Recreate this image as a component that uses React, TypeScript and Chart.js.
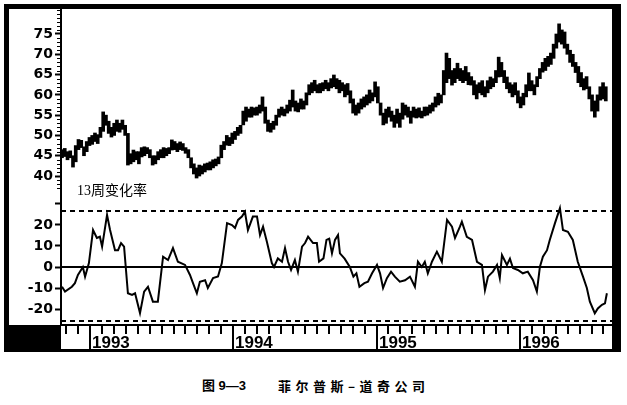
import React, { useEffect, useRef } from 'react';
import { Chart, registerables } from 'chart.js';

Chart.register(...registerables);

// ---- data ----
const START_YEAR = 1992.805; // first weekly bar (mid-October 1992)
const X_MIN = 1992.798;
const X_MAX = 1996.643;

const priceLow = [
  44.5, 44.8, 44.0, 44.5, 42.2, 43.5, 46.5, 47.0, 45.0, 46.0,
  47.5, 47.8, 48.5, 48.0, 49.5, 51.0, 52.5, 50.5, 49.6, 50.0,
  51.0, 50.8, 51.5, 50.0, 42.7, 43.0, 43.5, 44.0, 43.0, 44.7,
  45.0, 45.5, 44.5, 42.7, 43.0, 44.0, 44.5, 44.5, 45.0, 45.5,
  46.4, 46.5, 46.0, 46.5, 46.3, 45.6, 44.5, 42.0, 40.5, 39.5,
  40.0, 40.5, 41.0, 41.5, 41.5, 42.0, 42.5, 43.0, 44.5, 46.5,
  47.6, 47.5, 48.0, 49.0, 50.0, 50.5, 52.6, 53.5, 54.5, 54.5,
  55.0, 55.0, 55.5, 56.0, 53.0, 51.0, 50.8, 51.5, 52.5, 54.5,
  55.0, 54.8, 55.5, 56.0, 57.0, 56.0, 55.8, 56.5, 56.5, 57.5,
  60.0, 60.5, 61.0, 60.5, 60.5, 61.0, 61.5, 61.0, 61.7, 62.0,
  61.5, 60.5, 61.0, 59.5, 60.0, 58.0, 55.5, 55.0, 55.5, 56.5,
  57.0, 57.5, 58.0, 58.5, 59.5, 58.0, 55.0, 52.6, 53.0, 54.5,
  53.5, 52.0, 53.0, 52.0, 54.0, 55.0, 54.5, 53.0, 54.5, 54.3,
  54.5, 54.3, 54.8, 55.0, 55.5, 56.0, 57.0, 57.5, 58.0, 60.0,
  63.0, 64.0, 62.4, 63.0, 64.0, 63.5, 63.0, 63.5, 62.5, 62.4,
  60.0, 59.0, 60.5, 60.0, 59.5, 60.5, 61.5, 62.0, 63.0, 64.4,
  64.5, 63.0, 61.5, 60.5, 59.5, 60.0, 58.0, 56.8, 57.5, 59.5,
  61.0, 61.0, 60.0, 62.0, 64.0, 65.6, 66.0, 67.0, 67.5, 69.0,
  71.5, 73.0, 72.5, 71.5, 70.0, 68.0, 67.0, 65.5, 63.0, 62.0,
  61.2, 61.5, 59.0, 56.0, 54.5, 56.0, 58.7, 59.0, 58.5,
];

const priceHigh = [
  46.5, 46.8, 46.0, 46.2, 45.0, 47.5, 49.0, 48.8, 47.2, 48.5,
  49.5, 50.0, 50.6, 50.2, 52.0, 55.8, 55.0, 53.5, 52.0, 53.0,
  53.8, 53.0, 53.8, 52.5, 50.5, 45.5, 46.4, 46.0, 46.0, 47.0,
  47.2, 47.0, 46.5, 45.0, 45.0, 46.0, 46.5, 47.0, 46.8, 47.0,
  48.9, 48.5, 48.0, 48.4, 48.0, 47.0, 46.5, 44.5, 43.0, 42.0,
  42.7, 42.5, 43.0, 43.2, 43.5, 44.0, 44.2, 44.7, 47.6, 48.5,
  50.0, 49.5, 50.6, 51.0, 52.0, 52.5, 56.0, 57.0, 56.5, 57.0,
  56.8, 57.0, 57.5, 59.5, 57.0, 53.8, 53.0, 53.5, 55.0, 56.5,
  57.0, 56.5, 57.5, 58.7, 61.2, 58.5, 58.0, 59.0, 58.5, 60.5,
  62.5, 63.0, 63.6, 62.5, 62.8, 63.0, 63.6, 63.0, 64.0, 64.9,
  64.0, 63.6, 63.0, 62.5, 62.8, 61.0, 59.0, 57.5, 58.0, 59.0,
  59.5, 60.0, 61.2, 60.5, 63.2, 62.0, 58.0, 55.5, 56.5, 57.0,
  56.0, 55.0, 56.5, 55.5, 58.0, 57.5, 57.0, 56.0, 57.0, 56.5,
  56.8, 56.0, 57.0, 57.0, 57.5, 58.0, 59.5, 60.4, 60.0, 66.0,
  70.3, 69.0, 66.0, 66.5, 67.8, 66.5, 66.0, 67.0, 65.5, 64.5,
  63.5, 62.5, 63.0, 63.5, 62.0, 63.5, 64.4, 64.0, 66.0, 69.3,
  68.0, 66.0, 64.4, 63.0, 62.5, 63.0, 61.0, 59.5, 60.4, 62.5,
  65.4, 63.5, 62.5, 64.5, 66.5, 68.0, 69.0, 69.5, 70.3, 72.5,
  75.0, 77.5, 76.0, 75.5, 72.5, 71.0, 70.0, 68.0, 67.0, 65.5,
  64.0, 64.5, 62.0, 60.0, 58.5, 60.0, 62.0, 63.0, 62.0,
];

// 13-week rate of change, read at these (fractional) week positions
const rocWeek = [
  0, 1.1, 3.6, 4.7, 5.8, 7.6, 8.4, 9.8, 11.3, 12.7,
  13.8, 14.6, 16.4, 17.5, 19.3, 20.4, 21.5, 22.6, 24, 25.5,
  26.6, 28.4, 29.9, 31.3, 33.1, 34.9, 36.8, 38.6, 40.4, 42.2,
  44.8, 46.6, 47.7, 49.1, 50.2, 52.1, 53.1, 55, 56.8, 58.2,
  60.1, 61.9, 63, 64.1, 65.5, 66.6, 67.7, 69.5, 71, 72.1,
  73.2, 74.6, 76.4, 77.2, 78.6, 80.1, 81.2, 82.3, 83.4, 84.8,
  85.9, 87.4, 88.5, 89.6, 91.4, 92.8, 93.6, 95.2, 96.3, 97.3,
  98.3, 99.4, 100.5, 101.2, 102.9, 104.8, 106.1, 107.2, 108.3, 110.1,
  111.4, 112.9, 114.7, 115.8, 116.9, 118.3, 119.8, 121.2, 123, 124.9,
  126.7, 128.5, 129.6, 131, 132.1, 133.2, 134.7, 136.5, 138.3, 140.2,
  142, 143.1, 144.9, 145.6, 147.4, 149.3, 151.1, 152.9, 154, 155.1,
  156.9, 158.4, 159.4, 160.2, 162, 163.1, 164.2, 166, 167.8, 169.6,
  171.5, 172.9, 174, 175.1, 176.6, 177.6, 179.5, 181.3, 182.4, 184.2,
  186, 187.8, 189.7, 191.1, 192.2, 194, 195.1, 196.6, 197.7, 198.4,
];
const rocValue = [
  -9.4, -11.7, -9.4, -7.7, -3.8, 0, -4.6, 1.9, 17.6, 13.8,
  14.4, 9.7, 24.8, 17.6, 8, 8, 11.4, 9.7, -12.5, -13.3,
  -12.5, -21.9, -11.7, -9.4, -16.5, -16.5, 4.9, 3.3, 9, 2.5,
  1, -3.8, -7.7, -12.5, -7, -6.3, -10, -5.3, -4.5, 1.9,
  20.9, 20, 18.6, 22.4, 24, 26.3, 17.6, 24, 24, 15.2,
  19.2, 12, 1.9, 0, 4.1, 2.5, 9, 2.5, -1.4, 3.3,
  -2.2, 9.7, 11.4, 14.4, 11.4, 11.4, 2.5, 4.1, 12.9, 13.5,
  6.5, 12.9, 15.2, 6.5, 4, 0, -4.6, -3, -9.4, -7.7,
  -7, -3, 1, -3, -10, -5.3, -2.2, -4.6, -7, -6.3,
  -4.6, -9.4, 2.5, 0, 2.5, -3, 2.5, 7.3, 2.5, 22.4,
  19.2, 13.8, 19.2, 21.6, 14.4, 12.9, 2.5, 1, -11, -4.6,
  -2.2, 1, -5.3, 5.7, 1, 4, -0.5, -1.4, -3, -2.2,
  -6.3, -11.7, 0, 4.9, 8, 12.9, 20.9, 28, 17.6, 16.8,
  12.9, 2.5, -4.6, -10, -16.5, -22, -19.7, -18, -17.3, -12.5,
];

const priceTicks = [40, 45, 50, 55, 60, 65, 70, 75];
const priceRange = [36.06, 81.16];
const rocTicks = [30, 20, 10, 0, -10, -20];
const rocLabeled = [20, 10, 0, -10, -20];
const rocRange = [-27.6, 35.7];
const upperBand = 26.7;
const lowerBand = -25.7;
const yearLabels = [1993, 1994, 1995, 1996];

const weekToYear = (w: number) => START_YEAR + (w * 7) / 365.25;

const tickFont = { family: '"DejaVu Sans", sans-serif', weight: 'bold' as const, size: 14 };

const fixAxis = (s: any) => {
  s.width = 51;
  s.paddingTop = 0;
  s.paddingBottom = 0;
};

const minorTicksPlugin = {
  id: 'minorTicks',
  afterDraw(chart: any) {
    const { ctx, chartArea, scales } = chart;
    const y = scales.y;
    ctx.save();
    ctx.fillStyle = '#000';
    for (let v = Math.ceil(priceRange[0]); v <= Math.floor(priceRange[1]); v++) {
      if (priceTicks.includes(v)) continue;
      const py = Math.round(y.getPixelForValue(v));
      ctx.fillRect(chartArea.left - 4, py, 4, 1);
    }
    ctx.restore();
  },
};

const timeAxisPlugin = {
  id: 'timeAxis',
  afterDraw(chart: any) {
    const { ctx, chartArea, scales } = chart;
    const x = scales.x;
    const { left, right, bottom } = chartArea;
    ctx.save();
    ctx.fillStyle = '#000';
    ctx.fillRect(left - 1, bottom - 1, right - left + 1, 2);
    const firstYear = yearLabels[0] - 1;
    const lastYear = yearLabels[yearLabels.length - 1];
    for (let yr = firstYear; yr <= lastYear; yr++) {
      for (let m = 0; m < 12; m++) {
        const v = yr + m / 12;
        if (v < X_MIN || v > X_MAX) continue;
        const px = Math.round(x.getPixelForValue(v));
        if (m === 0 && yearLabels.includes(yr)) {
          ctx.fillRect(px - 1, bottom, 2, 27);
          ctx.font = 'bold 17px "Liberation Sans", Arial, sans-serif';
          ctx.textAlign = 'left';
          ctx.textBaseline = 'alphabetic';
          ctx.fillText(String(yr), px + 2, bottom + 23);
        } else {
          ctx.fillRect(px - 1, bottom, 2, 9);
        }
      }
    }
    ctx.restore();
  },
};

function PriceChart() {
  const ref = useRef<HTMLCanvasElement>(null);
  useEffect(() => {
    if (!ref.current) return;
    const n = Math.min(priceLow.length, priceHigh.length);
    const bars = [];
    for (let i = 0; i < n; i++) bars.push({ x: weekToYear(i), y: [priceLow[i], priceHigh[i]] });
    const chart = new Chart(ref.current, {
      type: 'bar',
      data: {
        datasets: [
          {
            data: bars as any,
            backgroundColor: '#000',
            borderWidth: 0,
            barThickness: 3,
            grouped: false,
          } as any,
        ],
      },
      options: {
        animation: false,
        responsive: true,
        maintainAspectRatio: false,
        layout: { padding: 0, autoPadding: false },
        plugins: { legend: { display: false }, tooltip: { enabled: false } },
        scales: {
          x: { type: 'linear', min: X_MIN, max: X_MAX, offset: false, display: false },
          y: {
            min: priceRange[0],
            max: priceRange[1],
            afterFit: fixAxis,
            afterBuildTicks: (s: any) => {
              s.ticks = priceTicks.map((v) => ({ value: v }));
            },
            ticks: { font: tickFont, color: '#000', padding: 2, callback: (v: any) => String(v) },
            grid: { drawOnChartArea: false, tickLength: 6, tickWidth: 2, color: '#000' },
            border: { color: '#000', width: 2 },
          },
        },
      } as any,
      plugins: [minorTicksPlugin],
    });
    return () => chart.destroy();
  }, []);
  return <canvas ref={ref} />;
}

function RocChart() {
  const ref = useRef<HTMLCanvasElement>(null);
  useEffect(() => {
    if (!ref.current) return;
    const n = Math.min(rocWeek.length, rocValue.length);
    const pts = [];
    for (let i = 0; i < n; i++) pts.push({ x: weekToYear(rocWeek[i]), y: rocValue[i] });
    const hline = (v: number) => [
      { x: X_MIN, y: v },
      { x: X_MAX, y: v },
    ];
    const chart = new Chart(ref.current, {
      type: 'line',
      data: {
        datasets: [
          { data: hline(upperBand), borderColor: '#000', borderWidth: 2, borderDash: [5, 4], pointRadius: 0 },
          { data: hline(lowerBand), borderColor: '#000', borderWidth: 2, borderDash: [5, 4], pointRadius: 0 },
          { data: hline(0), borderColor: '#000', borderWidth: 2, pointRadius: 0 },
          { data: pts, borderColor: '#000', borderWidth: 2, pointRadius: 0, tension: 0 },
        ] as any,
      },
      options: {
        animation: false,
        responsive: true,
        maintainAspectRatio: false,
        layout: { padding: { bottom: 27, top: 0, left: 0, right: 0 }, autoPadding: false },
        plugins: { legend: { display: false }, tooltip: { enabled: false } },
        scales: {
          x: { type: 'linear', min: X_MIN, max: X_MAX, offset: false, display: false },
          y: {
            min: rocRange[0],
            max: rocRange[1],
            afterFit: fixAxis,
            afterBuildTicks: (s: any) => {
              s.ticks = rocTicks.map((v) => ({ value: v }));
            },
            ticks: {
              font: tickFont,
              color: '#000',
              padding: 2,
              callback: (v: any) => (rocLabeled.includes(v) ? String(v) : ''),
            },
            grid: { drawOnChartArea: false, tickLength: 6, tickWidth: 2, color: '#000' },
            border: { color: '#000', width: 2 },
          },
        },
      } as any,
      plugins: [timeAxisPlugin],
    });
    return () => chart.destroy();
  }, []);
  return <canvas ref={ref} />;
}

const box = (left: number, top: number, width: number, height: number): React.CSSProperties => ({
  position: 'absolute',
  left,
  top,
  width,
  height,
  background: '#000',
});

export default function App() {
  return (
    <div
      style={{
        position: 'fixed',
        left: 0,
        top: 0,
        width: 627,
        height: 405,
        background: '#fff',
        overflow: 'hidden',
      }}
    >
      <div style={{ position: 'absolute', left: 10, top: 9, width: 602, height: 183 }}>
        <PriceChart />
      </div>
      <div style={{ position: 'absolute', left: 10, top: 192, width: 602, height: 160 }}>
        <RocChart />
      </div>
      {/* frame */}
      <div style={box(4, 4, 617, 5)} />
      <div style={box(4, 4, 5, 348)} />
      <div style={box(612, 4, 9, 348)} />
      <div style={box(4, 349, 617, 3)} />
      <div style={box(4, 325, 57, 27)} />
      <div
        style={{
          position: 'absolute',
          left: 77,
          top: 182,
          fontFamily: '"Liberation Serif", "Noto Sans CJK SC", serif',
          fontSize: 14,
          lineHeight: '18px',
          color: '#000',
          whiteSpace: 'nowrap',
        }}
      >
        13周变化率
      </div>
      <div
        style={{
          position: 'absolute',
          left: 202,
          top: 377,
          fontFamily: '"Liberation Sans", "Noto Sans CJK SC", sans-serif',
          fontWeight: 'bold',
          fontSize: 13,
          lineHeight: '18px',
          color: '#000',
          whiteSpace: 'nowrap',
        }}
      >
        图 9—3
      </div>
      <div
        style={{
          position: 'absolute',
          left: 278,
          top: 377,
          fontFamily: '"Noto Sans CJK SC", sans-serif',
          fontWeight: 'bold',
          fontSize: 13,
          lineHeight: '18px',
          letterSpacing: 4.5,
          color: '#000',
          whiteSpace: 'nowrap',
        }}
      >
        菲尔普斯–道奇公司
      </div>
    </div>
  );
}
